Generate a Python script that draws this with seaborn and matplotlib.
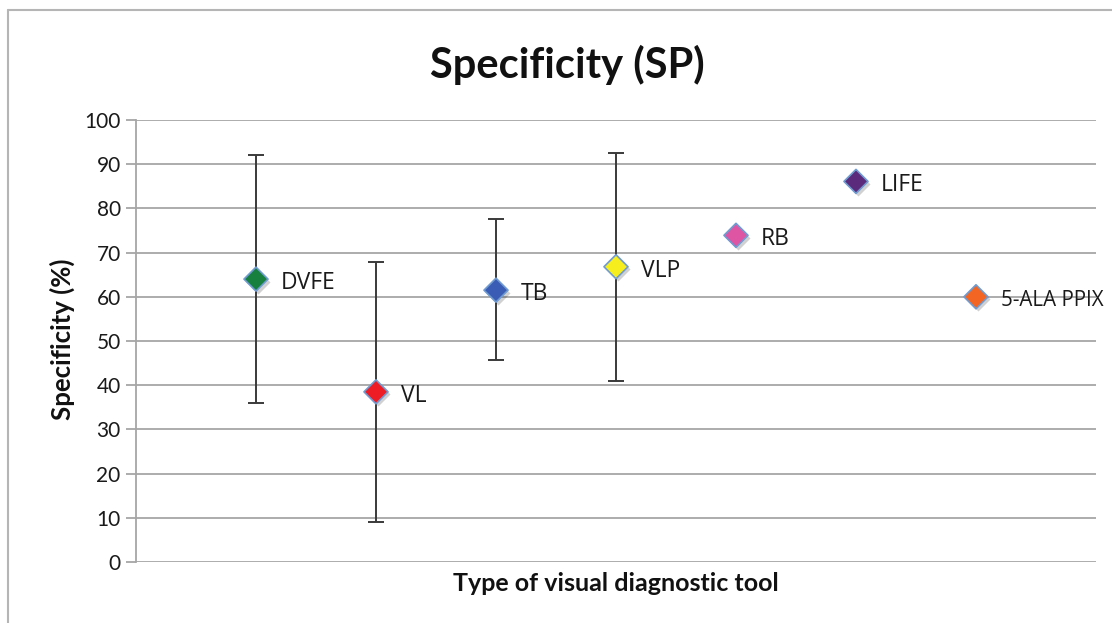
import numpy as np
import pandas as pd
import seaborn as sns
import matplotlib.pyplot as plt
from matplotlib.lines import Line2D

# ----- data -----
tools = ["DVFE", "VL", "TB", "VLP", "RB", "LIFE", "5-ALA PPIX"]
specificity = [64.0, 38.5, 61.5, 66.8, 73.9, 86.1, 60.0]
ci_low = [36.0, 9.0, 45.8, 40.9, np.nan, np.nan, np.nan]
ci_high = [92.1, 67.9, 77.5, 92.6, np.nan, np.nan, np.nan]
colors = ["#17803f", "#ee1c25", "#3b5cb5", "#f7ee1d", "#dd55a3", "#5b2a7c", "#f26522"]

df = pd.DataFrame({
    "tool": tools,
    "pos": np.arange(1, len(tools) + 1),
    "sp": specificity,
    "low": ci_low,
    "high": ci_high,
})

sns.set_theme(style="white")
plt.rcParams['font.family'] = ['Lato', 'DejaVu Sans']

fig = plt.figure(figsize=(11.12, 6.23), dpi=100)
ax = fig.add_axes([0.1223, 0.0979, 0.8633, 0.7095])

# error bars (only where there is an interval)
has_ci = df.dropna(subset=["low"])
ax.errorbar(has_ci["pos"], has_ci["sp"],
            yerr=[has_ci["sp"] - has_ci["low"], has_ci["high"] - has_ci["sp"]],
            fmt="none", ecolor="#3a3a3a", elinewidth=1.4, capsize=6, capthick=1.4, zorder=3)

# soft shadow under the diamonds
ax.scatter(df["pos"] + 0.02, df["sp"] - 0.6, marker="D", s=150, color="#000000",
           alpha=0.18, linewidths=0, zorder=4)

sns.scatterplot(data=df, x="pos", y="sp", hue="tool", palette=colors, marker="D",
                s=150, edgecolor="#6f9bd1", linewidth=1.2, legend=False, zorder=5, ax=ax)

for _, r in df.iterrows():
    # last label sits at the right edge; keep it just inside the figure
    size = 14.8 if r["pos"] == len(tools) else 16.5
    ax.text(r["pos"] + 0.21, r["sp"] - 0.9, r["tool"], fontsize=size, color="#1a1a1a",
            va="center", ha="left", family=["Open Sans", "DejaVu Sans"], clip_on=False, zorder=6)

ax.set_xlim(0, 8)
ax.set_ylim(0, 100)
ax.set_yticks(range(0, 101, 10))
ax.set_xticks([])
ax.yaxis.grid(True, color="#a6a6a6", linewidth=1.3)
ax.set_axisbelow(True)
for side in ["top", "right", "bottom"]:
    ax.spines[side].set_visible(False)
ax.spines["left"].set_color("#a6a6a6")
ax.spines["left"].set_linewidth(1.3)
ax.tick_params(axis="y", length=7, width=1.3, color="#a6a6a6", labelsize=15,
               labelcolor="#1a1a1a", pad=4, left=True)
ax.set_xlabel("")
ax.set_ylabel("")

fig.text(0.51, 0.896, "Specificity (SP)", ha="center", va="center",
         fontsize=30, fontweight="bold", color="#111111")
fig.text(0.554, 0.064, "Type of visual diagnostic tool", ha="center", va="center",
         fontsize=18, fontweight="bold", color="#111111")
fig.text(0.056, 0.455, "Specificity (%)", ha="center", va="center", rotation=90,
         fontsize=18.5, fontweight="bold", color="#111111")

# outer chart frame (top and left edges visible)
fig.add_artist(Line2D([0.007, 1.0], [0.984, 0.984], color="#b5b5b5", linewidth=1.5,
                      transform=fig.transFigure))
fig.add_artist(Line2D([0.007, 0.007], [0.0, 0.984], color="#b5b5b5", linewidth=1.5,
                      transform=fig.transFigure))

plt.savefig("out.png", dpi=100)
